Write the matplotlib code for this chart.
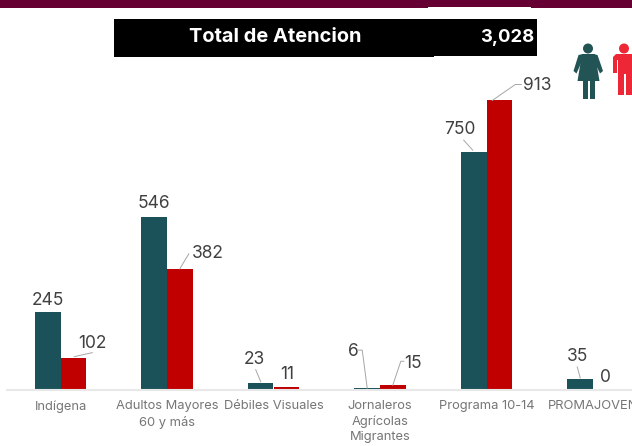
import numpy as np
import matplotlib
matplotlib.use('Agg')
import matplotlib.pyplot as plt
from matplotlib.lines import Line2D
from matplotlib.patches import Rectangle, Circle, Polygon
from matplotlib.transforms import IdentityTransform

plt.rcParams['font.family'] = ['Inter', 'DejaVu Sans']

# Datos
categorias = ['Indígena', 'Adultos Mayores\n60 y más', 'Débiles Visuales',
              'Jornaleros\nAgrícolas\nMigrantes', 'Programa 10-14', 'PROMAJOVEN']
mujeres = [245, 546, 23, 6, 750, 35]
hombres = [102, 382, 11, 15, 913, 0]
titulo = 'Total de Atencion'
total = '3,028'

TEAL = '#1B5259'
RED = '#C00000'
W, H = 632, 446

fig = plt.figure(figsize=(W / 100, H / 100), dpi=100)

# Ejes principales, el ultimo grupo se sale de la figura
left, right, base, top = 7.25, 646.25, 390, 60
ax = fig.add_axes([left / W, 1 - base / H, (right - left) / W, (base - top) / H])
x = np.arange(len(categorias))
bw = 0.24
ax.bar(x - bw / 2, mujeres, bw, color=TEAL)
ax.bar(x + bw / 2, hombres, bw, color=RED)
ax.set_xlim(-0.5, 5.5)
ax.set_ylim(0, (base - top) / 0.3171)
ax.set_yticks([])
ax.set_xticks(x)
ax.set_xticklabels(categorias, fontsize=9.3, color='#767676', linespacing=1.32)
ax.tick_params(axis='x', length=0, pad=7.5)
for s in ['top', 'left', 'right']:
    ax.spines[s].set_visible(False)
ax.spines['bottom'].set_color('#E8E8E8')
ax.spines['bottom'].set_linewidth(1.5)

# Etiquetas: desplazamiento del texto en px respecto a la punta de la barra
off_m = [(0, 12), (0, 13), (-6, 23), (-14, 37), (-14, 23), (-3, 22)]
off_h = [(19, 14), (28, 15), (1, 12), (20, 22), (38, 15), (0, 13)]
# lineas guia, en px respecto a la punta de la barra
guia_m = [None, None, [(0, 1), (-5, 13)], [(0, 0), (-5, 38), (-9, 38)],
          [(-1, 2), (-10, 12)], [(0, 1), (-3, 12)]]
guia_h = [[(1, 1), (19, 5)], [(0, 0), (9, 15)], None, [(0, 0), (8, 24), (11, 24)],
          [(-7, 0), (16, 16), (22, 16)], None]

fig.canvas.draw()
for serie, sign, off, guia in [(mujeres, -1, off_m, guia_m), (hombres, 1, off_h, guia_h)]:
    for i, v in enumerate(serie):
        bx = i + sign * bw / 2
        ax.annotate(str(v), xy=(bx, v), xytext=off[i], textcoords='offset pixels',
                    ha='center', va='center', fontsize=12.5, color='#404040')
        if guia[i] is not None:
            px, py = ax.transData.transform((bx, v))
            fig.add_artist(Line2D([px + p[0] for p in guia[i]], [py + p[1] for p in guia[i]],
                                  transform=IdentityTransform(), color='#A6A6A6', lw=0.7))

# Capa en pixeles para encabezado e iconos
deco = fig.add_axes([0, 0, 1, 1], facecolor='none')
deco.set_xlim(0, W)
deco.set_ylim(H, 0)
deco.axis('off')
deco.add_patch(Rectangle((0, 0), W, 8, color='#660033', lw=0))
deco.add_patch(Rectangle((428, 7), 103, 1, color='white', lw=0))
deco.add_patch(Rectangle((114, 19), 320, 38, color='black', lw=0))
deco.add_patch(Rectangle((434, 19), 103, 37, color='black', lw=0))
deco.text(275.5, 37, titulo, color='white', fontsize=14.4, fontweight='bold', ha='center', va='center')
deco.text(534, 38, total, color='white', fontsize=13.3, fontweight='bold', ha='right', va='center')

# Mujer
C1 = '#225355'
deco.add_patch(Circle((588, 48.5), 5, color=C1, lw=0))
deco.add_patch(Polygon([(582, 54), (595, 54), (599.5, 81), (577.5, 81)], color=C1, lw=0))
deco.add_patch(Polygon([(583, 54), (578.5, 55), (573.5, 71), (576.5, 73.5), (582, 61)], color=C1, lw=0))
deco.add_patch(Polygon([(593, 54), (597.5, 55), (603, 71), (600, 73.5), (594, 61)], color=C1, lw=0))
deco.add_patch(Rectangle((583, 80), 5, 18.5, color=C1, lw=0))
deco.add_patch(Rectangle((589.5, 80), 5, 18.5, color=C1, lw=0))
# Hombre
C2 = '#EE2737'
deco.add_patch(Circle((624, 48.5), 5, color=C2, lw=0))
deco.add_patch(Polygon([(616, 54), (634, 54), (634, 95), (625.5, 95), (625.5, 74), (624, 74),
                        (624, 95), (618, 95), (618, 60), (617, 60), (617, 73), (613, 73), (613, 57)],
                       color=C2, lw=0))

fig.savefig('out.png', dpi=100)
